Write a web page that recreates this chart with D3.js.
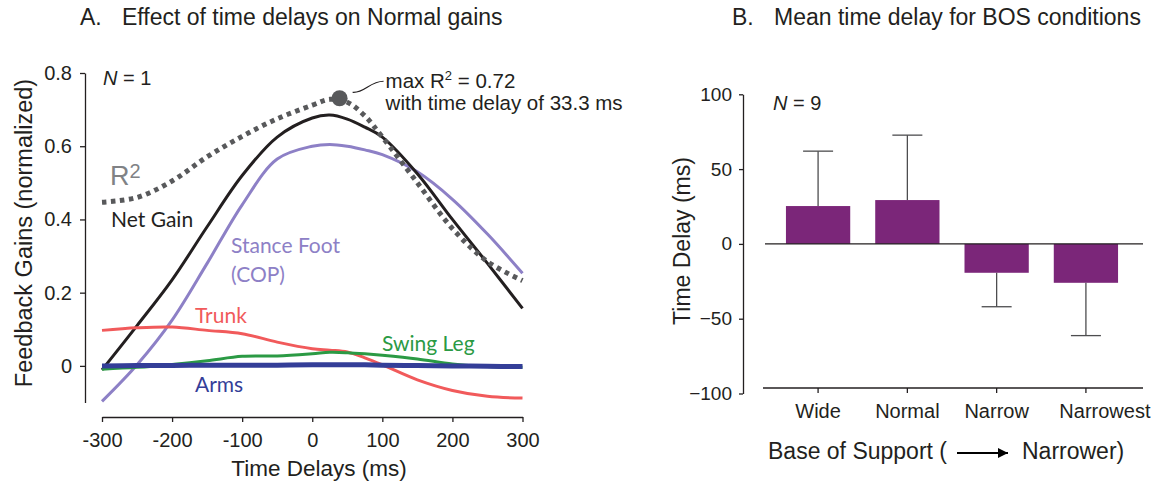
<!DOCTYPE html>
<html>
<head>
<meta charset="utf-8">
<script src="https://cdn.jsdelivr.net/npm/d3@7"></script>
<style>
body { margin: 0; background: #fff; }
svg text { font-family: "Liberation Sans", Arial, sans-serif; fill: #231f20; }
svg text.lbl { font-family: Lato, "Open Sans", sans-serif; }
</style>
</head>
<body>
<svg width="1161" height="488"></svg>
<script>
// panel A: gains vs time delay (N = 1)
const delays    = [-300, -250, -200, -150, -100, -50, 0, 25, 50, 75, 100, 150, 200, 250, 300]
const netGain   = [-0.011, 0.11, 0.235, 0.38, 0.52, 0.625, 0.677, 0.685, 0.674, 0.652, 0.625, 0.525, 0.40, 0.28, 0.157]
const stanceFoot= [-0.097, 0.003, 0.125, 0.28, 0.44, 0.565, 0.60, 0.605, 0.60, 0.59, 0.577, 0.53, 0.455, 0.36, 0.253]
const trunk     = [0.097, 0.104, 0.106, 0.097, 0.088, 0.065, 0.047, 0.043, 0.038, 0.022, 0.003, -0.038, -0.067, -0.083, -0.088]
const swingLeg  = [-0.009, -0.004, 0.004, 0.014, 0.026, 0.027, 0.033, 0.037, 0.036, 0.033, 0.029, 0.019, 0.005, -0.002, -0.004]
const arms      = [0, 0.001, 0.001, 0.002, 0.002, 0.002, 0.003, 0.003, 0.003, 0.003, 0.002, 0.001, 0, -0.001, -0.002]
const rSquared  = [0.447, 0.46, 0.505, 0.571, 0.627, 0.675, 0.712, 0.728, 0.72, 0.683, 0.625, 0.50, 0.375, 0.285, 0.233]
const maxR2 = {delay: 39, value: 0.731}
const xTicksA = [-300, -200, -100, 0, 100, 200, 300]
const yTicksA = [0, 0.2, 0.4, 0.6, 0.8]

// panel B: mean time delay per base of support (N = 9)
const bos = ['Wide', 'Normal', 'Narrow', 'Narrowest']
const meanDelay = [25.3, 29.3, -19.3, -26]
const sdDelay = [36.7, 43.4, 22.7, 35.3]
const yTicksB = [-100, -50, 0, 50, 100]

const svg = d3.select('svg')
const ink = '#231f20'

// ---------- panel A ----------
let x = d3.scaleLinear().domain([-300, 300]).range([102, 522.5])
let y = d3.scaleLinear().domain([-0.1, 0.8]).range([402.5, 73])

let gA = svg.append('g')

gA.append('g')
    .attr('transform', 'translate(85,0)')
    .call(d3.axisLeft(y).tickValues(yTicksA).tickSize(5).tickSizeOuter(0).tickPadding(8)
        .tickFormat(d => d === 0 ? '0' : d3.format('.1f')(d)))
    .call(a => a.selectAll('text').style('font-size', '20px'))

gA.append('g')
    .attr('transform', 'translate(0,417)')
    .call(d3.axisBottom(x).tickValues(xTicksA).tickSize(5).tickSizeOuter(0).tickPadding(8)
        .tickFormat(d => String(d)))
    .call(a => a.selectAll('text').style('font-size', '20px').attr('dy', '0.85em'))

gA.selectAll('.domain, .tick line').attr('stroke', ink).attr('stroke-width', 1.3)

let line = (vals) => d3.line()
    .x((d, i) => x(delays[i]))
    .y(d => y(d))
    .curve(d3.curveCatmullRom.alpha(0.5))(vals)

let series = [
    {vals: stanceFoot, color: '#8d80c6', w: 3},
    {vals: netGain, color: '#231f20', w: 3},
    {vals: trunk, color: '#f15a5b', w: 3},
    {vals: swingLeg, color: '#2b9a44', w: 3},
    {vals: arms, color: '#343e98', w: 5},
]

gA.selectAll('path.series')
    .data(series)
    .enter()
    .append('path')
    .attr('class', 'series')
    .attr('d', d => line(d.vals))
    .attr('fill', 'none')
    .attr('stroke', d => d.color)
    .attr('stroke-width', d => d.w)

gA.append('path')
    .attr('d', line(rSquared))
    .attr('fill', 'none')
    .attr('stroke', '#58595b')
    .attr('stroke-width', 5)
    .attr('stroke-dasharray', '4.5,4.5')

let mx = x(maxR2.delay), my = y(maxR2.value)
gA.append('circle')
    .attr('cx', mx).attr('cy', my).attr('r', 8)
    .attr('fill', '#58595b')

let conn = d3.path()
conn.moveTo(mx + 13, my - 6)
conn.bezierCurveTo(mx + 25, my - 5, mx + 30, my - 17, mx + 44, my - 17)
gA.append('path').attr('d', conn.toString())
    .attr('fill', 'none').attr('stroke', ink).attr('stroke-width', 1.2)

let ann = gA.append('text').attr('x', mx + 46).attr('y', my - 10).style('font-size', '20.5px')
ann.append('tspan').text('max R')
ann.append('tspan').text('2').attr('dy', -8).style('font-size', '13px')
ann.append('tspan').text(' = 0.72').attr('dy', 8)
gA.append('text').attr('x', mx + 46).attr('y', my + 12).style('font-size', '20.5px')
    .text('with time delay of 33.3 ms')

let nA = gA.append('text').attr('x', 103).attr('y', 85).style('font-size', '20px')
nA.append('tspan').text('N').style('font-style', 'italic')
nA.append('tspan').text(' = 1')

let r2 = gA.append('text').attr('x', 110).attr('y', 185).style('font-size', '27px').style('fill', '#808285')
r2.append('tspan').text('R').style('fill', '#808285')
r2.append('tspan').text('2').attr('dy', -7).style('font-size', '20px').style('fill', '#808285')

let labels = [
    {t: 'Net Gain', x: 111, y: 227, c: '#231f20'},
    {t: 'Stance Foot', x: 231, y: 253, c: '#8d80c6'},
    {t: '(COP)', x: 231, y: 282, c: '#8d80c6'},
    {t: 'Trunk', x: 195, y: 323, c: '#f15a5b'},
    {t: 'Swing Leg', x: 382, y: 351, c: '#2b9a44'},
    {t: 'Arms', x: 195, y: 392, c: '#343e98'},
]
gA.selectAll('text.lbl')
    .data(labels)
    .enter()
    .append('text')
    .attr('class', 'lbl')
    .attr('x', d => d.x)
    .attr('y', d => d.y)
    .style('font-size', '21px')
    .style('fill', d => d.c)
    .text(d => d.t)

gA.append('text').attr('x', 80).attr('y', 25).style('font-size', '23px').text('A.')
gA.append('text').attr('x', 122).attr('y', 25).style('font-size', '23px').text('Effect of time delays on Normal gains')
gA.append('text').attr('x', 319).attr('y', 476).attr('text-anchor', 'middle')
    .style('font-size', '22.5px').text('Time Delays (ms)')
gA.append('text').attr('transform', 'translate(32,233) rotate(-90)').attr('text-anchor', 'middle')
    .style('font-size', '23.5px').text('Feedback Gains (normalized)')

// ---------- panel B ----------
let xb = d3.scaleBand().domain(bos).range([773, 1131]).paddingInner(0.28).paddingOuter(0.145)
let yb = d3.scaleLinear().domain([-100, 100]).range([393.5, 94.3])

let gB = svg.append('g')

gB.append('g')
    .attr('transform', 'translate(743,0)')
    .call(d3.axisLeft(yb).tickValues(yTicksB).tickSize(4).tickSizeOuter(0).tickPadding(7))
    .call(a => a.selectAll('text').style('font-size', '19px'))

gB.append('g')
    .attr('transform', 'translate(0,388)')
    .call(d3.axisBottom(xb).tickSize(5).tickSizeOuter(0).tickPadding(8))
    .call(a => a.selectAll('text').style('font-size', '20px').attr('dy', '0.85em'))
    .call(a => a.select('.domain').attr('d', 'M763,0H1143'))
    // last label sits a bit right of its tick in the original
    .call(a => a.selectAll('.tick text').filter(d => d === 'Narrowest').attr('x', 19))

gB.selectAll('.domain, .tick line').attr('stroke', ink).attr('stroke-width', 1.3)

gB.selectAll('rect.bar')
    .data(bos)
    .enter()
    .append('rect')
    .attr('class', 'bar')
    .attr('x', d => xb(d))
    .attr('width', xb.bandwidth())
    .attr('y', (d, i) => yb(Math.max(0, meanDelay[i])))
    .attr('height', (d, i) => Math.abs(yb(meanDelay[i]) - yb(0)))
    .attr('fill', '#7b2679')

let errTip = (i) => meanDelay[i] + Math.sign(meanDelay[i]) * sdDelay[i]

gB.selectAll('line.err')
    .data(bos)
    .enter()
    .append('line')
    .attr('class', 'err')
    .attr('x1', d => xb(d) + xb.bandwidth() / 2)
    .attr('x2', d => xb(d) + xb.bandwidth() / 2)
    .attr('y1', (d, i) => yb(meanDelay[i]))
    .attr('y2', (d, i) => yb(errTip(i)))
    .attr('stroke', '#4d4d4f').attr('stroke-width', 1.3)

gB.selectAll('line.cap')
    .data(bos)
    .enter()
    .append('line')
    .attr('class', 'cap')
    .attr('x1', d => xb(d) + xb.bandwidth() / 2 - 15)
    .attr('x2', d => xb(d) + xb.bandwidth() / 2 + 15)
    .attr('y1', (d, i) => yb(errTip(i)))
    .attr('y2', (d, i) => yb(errTip(i)))
    .attr('stroke', '#4d4d4f').attr('stroke-width', 1.3)

gB.append('line')
    .attr('x1', 765).attr('x2', 1143)
    .attr('y1', yb(0)).attr('y2', yb(0))
    .attr('stroke', ink).attr('stroke-width', 1.3)

let nB = gB.append('text').attr('x', 773).attr('y', 110).style('font-size', '20px')
nB.append('tspan').text('N').style('font-style', 'italic')
nB.append('tspan').text(' = 9')

gB.append('text').attr('x', 732).attr('y', 25).style('font-size', '23px').text('B.')
gB.append('text').attr('x', 774).attr('y', 25).style('font-size', '23px').text('Mean time delay for BOS conditions')
gB.append('text').attr('transform', 'translate(690,241) rotate(-90)').attr('text-anchor', 'middle')
    .style('font-size', '23px').text('Time Delay (ms)')
gB.append('text').attr('x', 768).attr('y', 459).style('font-size', '23px').text('Base of Support (')
gB.append('text').attr('x', 1022).attr('y', 459).style('font-size', '23px').text('Narrower)')

svg.append('defs').append('marker')
    .attr('id', 'arrow')
    .attr('viewBox', '0 0 10 10')
    .attr('refX', 10).attr('refY', 5)
    .attr('markerWidth', 13).attr('markerHeight', 10)
    .attr('markerUnits', 'userSpaceOnUse')
    .attr('orient', 'auto')
    .append('path').attr('d', 'M0,0L10,5L0,10z').attr('fill', '#000')

gB.append('line')
    .attr('x1', 957).attr('x2', 1008)
    .attr('y1', 453).attr('y2', 453)
    .attr('stroke', '#000').attr('stroke-width', 2)
    .attr('marker-end', 'url(#arrow)')
</script>
</body>
</html>
